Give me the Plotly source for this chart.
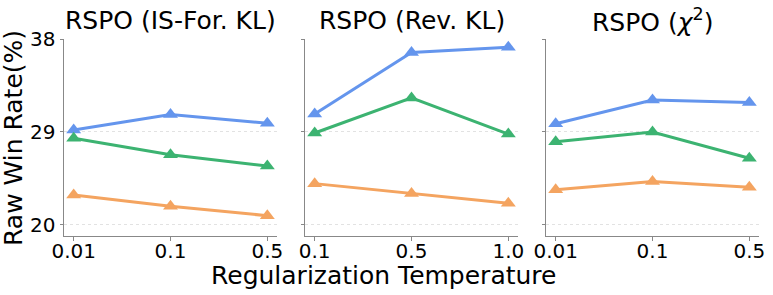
import plotly.graph_objects as go

# ---- data ----
titles = ["RSPO (IS-For. KL)", "RSPO (Rev. KL)", "RSPO (<i>χ</i><sup>2</sup>)"]
temps_isfkl = ["0.01", "0.1", "0.5"]
temps_revkl = ["0.1", "0.5", "1.0"]
temps_chi2 = ["0.01", "0.1", "0.5"]

blue_isfkl = [29.2, 30.7, 29.85]
green_isfkl = [28.4, 26.8, 25.7]
orange_isfkl = [22.9, 21.8, 20.9]

blue_revkl = [30.75, 36.7, 37.2]
green_revkl = [28.9, 32.3, 28.8]
orange_revkl = [24.0, 23.05, 22.1]

blue_chi2 = [29.8, 32.1, 31.85]
green_chi2 = [28.05, 29.0, 26.45]
orange_chi2 = [23.4, 24.2, 23.65]

y_ticks = [20, 29, 38]

colors = {"blue": "#6495ED", "green": "#3CB371", "orange": "#F4A460"}

panels = [
    (temps_isfkl, blue_isfkl, green_isfkl, orange_isfkl),
    (temps_revkl, blue_revkl, green_revkl, orange_revkl),
    (temps_chi2, blue_chi2, green_chi2, orange_chi2),
]

W, H = 773, 295
FONT = "DejaVu Sans"
domains_px = [(64, 277), (305, 518), (546, 759)]
ydom = [1 - 236 / H, 1 - 39 / H]

fig = go.Figure()
for i, (cats, b, g, o) in enumerate(panels):
    xa = "x" if i == 0 else f"x{i+1}"
    ya = "y" if i == 0 else f"y{i+1}"
    for vals, c in ((b, "blue"), (g, "green"), (o, "orange")):
        fig.add_trace(go.Scatter(
            x=cats, y=vals, xaxis=xa, yaxis=ya, mode="lines+markers",
            line=dict(color=colors[c], width=3),
            marker=dict(symbol="triangle-up", size=13, color=colors[c]),
            showlegend=False, cliponaxis=False,
        ))
    d0, d1 = domains_px[i]
    xkey = "xaxis" if i == 0 else f"xaxis{i+1}"
    ykey = "yaxis" if i == 0 else f"yaxis{i+1}"
    fig.layout[xkey] = dict(
        domain=[d0 / W, d1 / W], anchor=ya, type="category", automargin=False,
        range=[-0.1, 2.1], showgrid=False, zeroline=False,
        showline=True, linecolor="#888888", linewidth=1,
        ticks="outside", ticklen=3.5, tickcolor="#888888",
        ticklabelstandoff=-7,
        tickfont=dict(family=FONT, size=20, color="black"),
    )
    fig.layout[ykey] = dict(
        domain=ydom, anchor=xa, range=[18.93, 38], automargin=False,
        tickvals=y_ticks, showticklabels=(i == 0),
        showgrid=True, gridcolor="#e2e2e2", griddash="dot", gridwidth=1,
        zeroline=False, showline=True, linecolor="#888888", linewidth=1,
        ticks="outside", ticklen=3.5, tickcolor="#888888",
        tickfont=dict(family=FONT, size=20, color="black"),
    )
    fig.add_annotation(
        text=titles[i], xref="paper", yref="paper",
        x=(d0 + d1) / 2 / W, y=1 - 20 / H, xanchor="center", yanchor="middle",
        showarrow=False, font=dict(family=FONT, size=25, color="black"),
    )

fig.add_annotation(
    text="Raw Win Rate(%)", xref="paper", yref="paper",
    x=13 / W, y=1 - 138 / H, xanchor="center", yanchor="middle", textangle=-90,
    showarrow=False, font=dict(family=FONT, size=25, color="black"),
)
fig.add_annotation(
    text="Regularization Temperature", xref="paper", yref="paper",
    x=383 / W, y=1 - 275 / H, xanchor="center", yanchor="middle",
    showarrow=False, font=dict(family=FONT, size=25, color="black"),
)

fig.update_layout(
    width=W, height=H, margin=dict(l=0, r=0, t=0, b=0),
    paper_bgcolor="white", plot_bgcolor="white",
    font=dict(family=FONT, color="black"),
)

fig.write_html(
    "out.html",
    config={"displayModeBar": False},
    post_script="document.body.style.margin='0';document.body.style.overflow='hidden';",
)
